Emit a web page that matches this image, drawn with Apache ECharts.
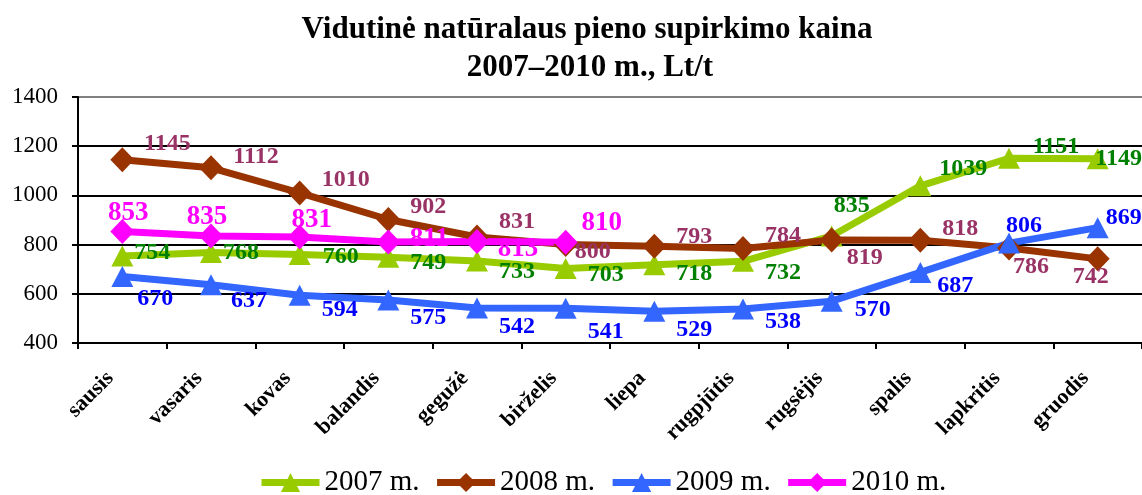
<!DOCTYPE html>
<html>
<head>
<meta charset="utf-8">
<script src="https://cdn.jsdelivr.net/npm/echarts@6/dist/echarts.min.js"></script>
<style>
  html, body { margin: 0; padding: 0; background: #fff; }
  #chart { width: 1142px; height: 495px; }
</style>
</head>
<body>
<div id="chart"></div>
<script>
const months = ['sausis', 'vasaris', 'kovas', 'balandis', 'gegužė', 'birželis',
  'liepa', 'rugpjūtis', 'rugsėjis', 'spalis', 'lapkritis', 'gruodis']

const y2007 = [754, 768, 760, 749, 733, 703, 718, 732, 835, 1039, 1151, 1149]
const y2008 = [1145, 1112, 1010, 902, 831, 800, 793, 784, 819, 818, 786, 742]
const y2009 = [670, 637, 594, 575, 542, 541, 529, 538, 570, 687, 806, 869]
const y2010 = [853, 835, 831, 811, 813, 810]

// label placement (x, y offsets in px) per point, as in the original
const off2007 = [[30, -3], [30, 0], [41, 2], [40, 6], [40, 11], [40, 6], [40, 9], [40, 11], [20, -30], [43, -17], [47, -11], [21, 0]]
const off2008 = [[45, -16], [45, -11], [46, -13], [40, -13], [40, -15], [27, 7], [40, -10], [40, -13], [33, 18], [40, -11], [22, 19], [-7, 18]]
const off2009 = [[33, 22], [38, 16], [40, 15], [40, 18], [40, 19], [40, 23], [40, 19], [40, 13], [41, 9], [35, 13], [15, -17], [26, -10]]
const off2010 = [[6, -19], [-4, -19], [12, -17], [41, -3], [41, 8], [36, -19]]

const serif = 'Liberation Serif, Times New Roman, serif'

function makeSeries(name, values, offsets, lineColor, labelColor, symbol, labelSize) {
  return {
    name: name,
    type: 'line',
    symbol: symbol,
    symbolSize: symbol === 'triangle' ? [22, 21] : [24, 25],
    lineStyle: { color: lineColor, width: 7 },
    itemStyle: { color: lineColor },
    emphasis: { disabled: true },
    data: values.map((v, i) => ({
      value: v,
      label: { offset: offsets[i] }
    })),
    label: {
      show: true,
      position: 'inside',
      color: labelColor,
      fontFamily: serif,
      fontWeight: 'bold',
      fontSize: labelSize
    }
  }
}

const chart = echarts.init(document.getElementById('chart'))

const titleStyle = { fontFamily: serif, fontWeight: 'bold', fontSize: 31, fill: '#000', textAlign: 'center', textVerticalAlign: 'middle' }

chart.setOption({
  animation: false,
  graphic: [
    { type: 'text', x: 587, y: 30, style: Object.assign({ text: 'Vidutinė natūralaus pieno supirkimo kaina' }, titleStyle) },
    { type: 'text', x: 590, y: 68, style: Object.assign({ text: '2007–2010 m., Lt/t' }, titleStyle) }
  ],
  legend: {
    top: 463,
    left: 253,
    itemWidth: 58,
    itemHeight: 24,
    itemGap: 14,
    lineStyle: { width: 7 },
    textStyle: { fontFamily: serif, fontSize: 29, color: '#000' },
    data: ['2007 m.', '2008 m.', '2009 m.', '2010 m.']
  },
  grid: { left: 78, top: 97, width: 1068, height: 246 },
  xAxis: {
    type: 'category',
    data: months,
    boundaryGap: true,
    axisLine: { lineStyle: { color: '#000', width: 2 } },
    axisTick: { show: true, length: 6, lineStyle: { color: '#000', width: 2 } },
    axisLabel: {
      interval: 0,
      rotate: 45,
      margin: 20,
      padding: [0, 17, 0, 0],
      fontFamily: serif,
      fontWeight: 'bold',
      fontSize: 22,
      color: '#000'
    }
  },
  yAxis: {
    type: 'value',
    min: 400,
    max: 1400,
    interval: 200,
    axisLine: { show: true, lineStyle: { color: '#000', width: 2 } },
    axisTick: { show: true, length: 6, lineStyle: { color: '#000', width: 2 } },
    axisLabel: { margin: 20, formatter: v => String(v), fontFamily: serif, fontSize: 23, color: '#000' },
    splitLine: {
      show: true,
      lineStyle: { color: ['#000', '#000', '#000', '#000', '#000', '#808080'], width: 2 }
    }
  },
  series: [
    makeSeries('2007 m.', y2007, off2007, '#99CC00', '#008000', 'triangle', 24),
    makeSeries('2008 m.', y2008, off2008, '#993300', '#993366', 'diamond', 24),
    makeSeries('2009 m.', y2009, off2009, '#3366FF', '#0000FF', 'triangle', 24),
    makeSeries('2010 m.', y2010, off2010, '#FF00FF', '#FF00FF', 'diamond', 27)
  ]
})
</script>
</body>
</html>
